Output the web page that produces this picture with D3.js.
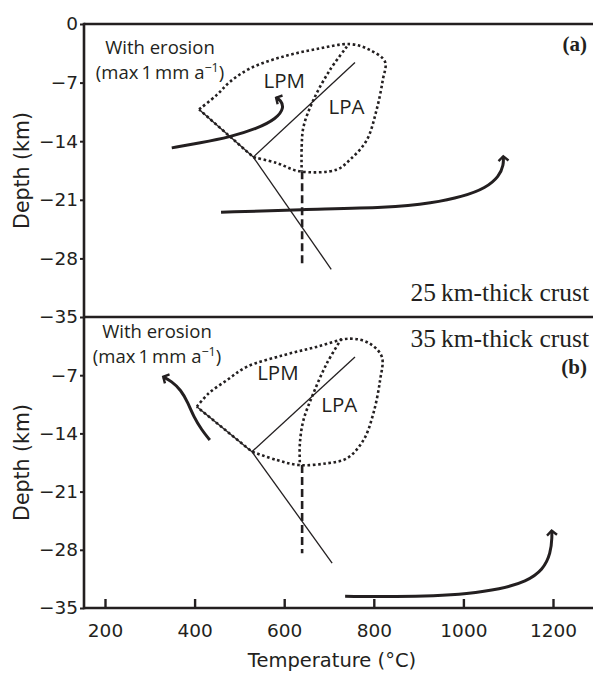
<!DOCTYPE html>
<html>
<head>
<meta charset="utf-8">
<script src="https://cdn.jsdelivr.net/npm/d3@7"></script>
<style>
  body { margin: 0; background: #fff; }
  svg { display: block; }
</style>
</head>
<body>
<div id="chart"></div>
<script>
// temperature (°C) / depth (km)
const xTicks = [200, 400, 600, 800, 1000, 1200];
const yTicksTop = [0, -7, -14, -21, -28, -35];
const yTicksBottom = [-7, -14, -21, -28, -35];

// panel (a): 25 km-thick crust
const outlineA = [[410, -10.2], [449, -8.5], [479, -6.9], [524, -5.3], [597, -3.9], [672, -3.0], [747, -2.4],
  [791, -3.1], [825, -4.5], [820, -6.7], [806, -10.3], [784, -13.9], [747, -16.2], [717, -17.4],
  [635, -17.6], [583, -16.6], [531, -15.9]];
const lpaEdgeA = [[740, -2.7], [702, -5.5], [665, -9.1], [643, -12.3], [639, -14.7], [639, -17.6]];
const thinLinesA = [[[410, -10.2], [531, -15.9]], [[531, -15.9], [758, -4.6]], [[531, -15.9], [705, -29.3]]];
const dashedA = [[640, -17.6], [640, -28.8]];
const erosionPathA = [[349, -14.8], [412, -14.2], [479, -13.5], [539, -12.5], [583, -11.3], [600, -10.0], [592, -9.1], [582, -8.8]];
const heatingPathA = [[459, -22.5], [635, -22.15], [836, -21.95], [930, -21.4], [1000, -20.6], [1050, -19.6],
  [1080, -18.2], [1090, -16.8], [1089, -15.8]];
const labelsA = [{ text: 'LPM', t: 600, d: -7.6 }, { text: 'LPA', t: 739, d: -10.8 }];

// panel (b): 35 km-thick crust
const outlineB = [[405, -10.8], [431, -9.2], [472, -7.6], [516, -6.0], [598, -4.6], [672, -3.6], [747, -2.6],
  [791, -3.2], [818, -4.8], [814, -7.6], [799, -11.6], [777, -14.8], [740, -17.0], [695, -17.6],
  [632, -17.8], [583, -17.2], [528, -16.2]];
const lpaEdgeB = [[728, -2.6], [695, -5.6], [665, -9.2], [643, -12.4], [635, -15.2], [635, -17.8]];
const thinLinesB = [[[405, -10.8], [528, -16.2]], [[528, -16.2], [758, -4.8]], [[528, -16.2], [707, -29.6]]];
const dashedB = [[640, -17.8], [640, -28.4]];
const erosionPathB = [[434, -14.8], [416, -13.6], [398, -12.0], [385, -10.3], [370, -8.8], [348, -7.7], [330, -7.2]];
const heatingPathB = [[736, -33.6], [858, -33.65], [933, -33.55], [1007, -33.3], [1082, -32.75], [1141, -31.8],
  [1178, -30.4], [1195, -28.4], [1198, -26.4], [1197, -25.7]];
const labelsB = [{ text: 'LPM', t: 586, d: -7.6 }, { text: 'LPA', t: 723, d: -11.4 }];

const ink = '#231f20';
const width = 593, height = 674;
const left = 84, right = 593;

const panels = [
  { top: 24, bottom: 317, ticks: yTicksTop, outline: outlineA, lpa: lpaEdgeA, thin: thinLinesA, dashed: dashedA,
    erosion: erosionPathA, heating: heatingPathA, labels: labelsA,
    crust: '25\u2009km-thick crust', crustY: 301, tag: '(a)', tagY: 51, noteY: 54, noteX: 160 },
  { top: 317, bottom: 608, ticks: yTicksBottom, outline: outlineB, lpa: lpaEdgeB, thin: thinLinesB, dashed: dashedB,
    erosion: erosionPathB, heating: heatingPathB, labels: labelsB,
    crust: '35\u2009km-thick crust', crustY: 347, tag: '(b)', tagY: 374, noteY: 338, noteX: 157 }
];

const svg = d3.select('#chart').append('svg')
  .attr('width', width)
  .attr('height', height);

svg.append('defs').append('marker')
  .attr('id', 'chev')
  .attr('viewBox', '-8 -8 16 16')
  .attr('markerUnits', 'userSpaceOnUse')
  .attr('markerWidth', 16)
  .attr('markerHeight', 16)
  .attr('orient', 'auto')
  .append('path')
  .attr('d', 'M-4.5,-5 L0,0 L-4.5,5')
  .attr('fill', 'none')
  .attr('stroke', ink)
  .attr('stroke-width', 2.4);

const x = d3.scaleLinear().domain([200, 1200]).range([105, 553]);

function drawPanel(p) {
  const y = d3.scaleLinear().domain([0, -35]).range([p.top, p.bottom]);
  const g = svg.append('g');
  const straight = d3.line().x(d => x(d[0])).y(d => y(d[1]));
  const smooth = d3.line().x(d => x(d[0])).y(d => y(d[1])).curve(d3.curveCatmullRom.alpha(0.5));
  const soft = d3.line().x(d => x(d[0])).y(d => y(d[1])).curve(d3.curveBasis);

  // y axis
  const yAxis = d3.axisLeft(y)
    .tickValues(p.ticks)
    .tickSize(4)
    .tickPadding(2)
    .tickFormat(d3.format('d'));
  const ay = g.append('g')
    .attr('transform', 'translate(' + left + ',0)')
    .call(yAxis);
  ay.select('.domain').remove();
  ay.selectAll('line').attr('stroke', ink).attr('stroke-width', 2);
  ay.selectAll('text')
    .style('font-family', '"DejaVu Sans", Verdana, sans-serif')
    .style('font-size', '18.5px')
    .attr('fill', ink);

  // dotted field outline (LPM + LPA)
  const first = p.outline[0];
  g.append('path')
    .attr('d', smooth(p.outline) + 'L' + x(first[0]) + ',' + y(first[1]))
    .attr('fill', 'none')
    .attr('stroke', ink)
    .attr('stroke-width', 2.6)
    .attr('stroke-dasharray', '2.6,2.6');

  g.append('path')
    .attr('d', smooth(p.lpa))
    .attr('fill', 'none')
    .attr('stroke', ink)
    .attr('stroke-width', 2.6)
    .attr('stroke-dasharray', '2.6,2.6');

  g.append('path')
    .attr('d', straight(p.dashed))
    .attr('fill', 'none')
    .attr('stroke', ink)
    .attr('stroke-width', 2.6)
    .attr('stroke-dasharray', '8,4');

  g.selectAll('.thin')
    .data(p.thin)
    .enter()
    .append('path')
    .attr('class', 'thin')
    .attr('d', d => straight(d))
    .attr('fill', 'none')
    .attr('stroke', ink)
    .attr('stroke-width', 1.3);

  [p.erosion, p.heating].forEach(pts => {
    g.append('path')
      .attr('d', soft(pts))
      .attr('fill', 'none')
      .attr('stroke', ink)
      .attr('stroke-width', 3)
      .attr('stroke-linecap', 'butt')
      .attr('marker-end', 'url(#chev)');
  });

  g.selectAll('.field-label')
    .data(p.labels)
    .enter()
    .append('text')
    .attr('class', 'field-label')
    .attr('x', d => x(d.t))
    .attr('y', d => y(d.d))
    .attr('text-anchor', 'middle')
    .style('font-family', '"Open Sans", sans-serif')
    .style('font-size', '20.5px')
    .attr('fill', ink)
    .text(d => d.text);

  const note = g.append('g')
    .style('font-family', '"Open Sans", sans-serif')
    .style('font-size', '18.5px')
    .attr('fill', ink);
  note.append('text')
    .attr('x', p.noteX)
    .attr('y', p.noteY)
    .attr('text-anchor', 'middle')
    .text('With erosion');
  const t2 = note.append('text')
    .attr('x', p.noteX)
    .attr('y', p.noteY + 25)
    .attr('text-anchor', 'middle');
  t2.append('tspan').text('(max\u20091\u2009mm a');
  t2.append('tspan').attr('dy', -7).style('font-size', '12.5px').text('\u22121');
  t2.append('tspan').attr('dy', 7).text(')');

  g.append('text')
    .attr('x', 589)
    .attr('y', p.crustY)
    .attr('text-anchor', 'end')
    .style('font-family', '"Liberation Serif", "Times New Roman", serif')
    .style('font-size', '25.5px')
    .attr('fill', ink)
    .text(p.crust);

  g.append('text')
    .attr('x', 587)
    .attr('y', p.tagY)
    .attr('text-anchor', 'end')
    .style('font-family', '"Liberation Serif", "Times New Roman", serif')
    .style('font-size', '21px')
    .style('font-weight', 'bold')
    .attr('fill', ink)
    .text(p.tag);

  g.append('text')
    .attr('transform', 'rotate(-90)')
    .attr('x', -(p.top + p.bottom) / 2)
    .attr('y', 29)
    .attr('text-anchor', 'middle')
    .style('font-family', '"DejaVu Sans", Verdana, sans-serif')
    .style('font-size', '20.5px')
    .attr('fill', ink)
    .text('Depth (km)');
}

panels.forEach(drawPanel);

// x axis with inward ticks
const xAxis = d3.axisBottom(x)
  .tickValues(xTicks)
  .tickSize(-9)
  .tickPadding(16)
  .tickFormat(d3.format('d'));
const ax = svg.append('g')
  .attr('transform', 'translate(0,608)')
  .call(xAxis);
ax.select('.domain').remove();
ax.selectAll('line').attr('stroke', ink).attr('stroke-width', 2.4);
ax.selectAll('text')
  .style('font-family', '"DejaVu Sans", Verdana, sans-serif')
  .style('font-size', '18.5px')
  .attr('fill', ink);

svg.append('text')
  .attr('x', 332)
  .attr('y', 667)
  .attr('text-anchor', 'middle')
  .style('font-family', '"DejaVu Sans", Verdana, sans-serif')
  .style('font-size', '19.5px')
  .attr('fill', ink)
  .text('Temperature (°C)');

// frame lines
const frame = svg.append('g').attr('stroke', ink).attr('stroke-width', 2.6);
[24, 317, 608].forEach(yy => {
  frame.append('line').attr('x1', left).attr('x2', right).attr('y1', yy).attr('y2', yy);
});
frame.append('line').attr('x1', left).attr('x2', left).attr('y1', 24 - 1.3).attr('y2', 608 + 1.3);
</script>
</body>
</html>
